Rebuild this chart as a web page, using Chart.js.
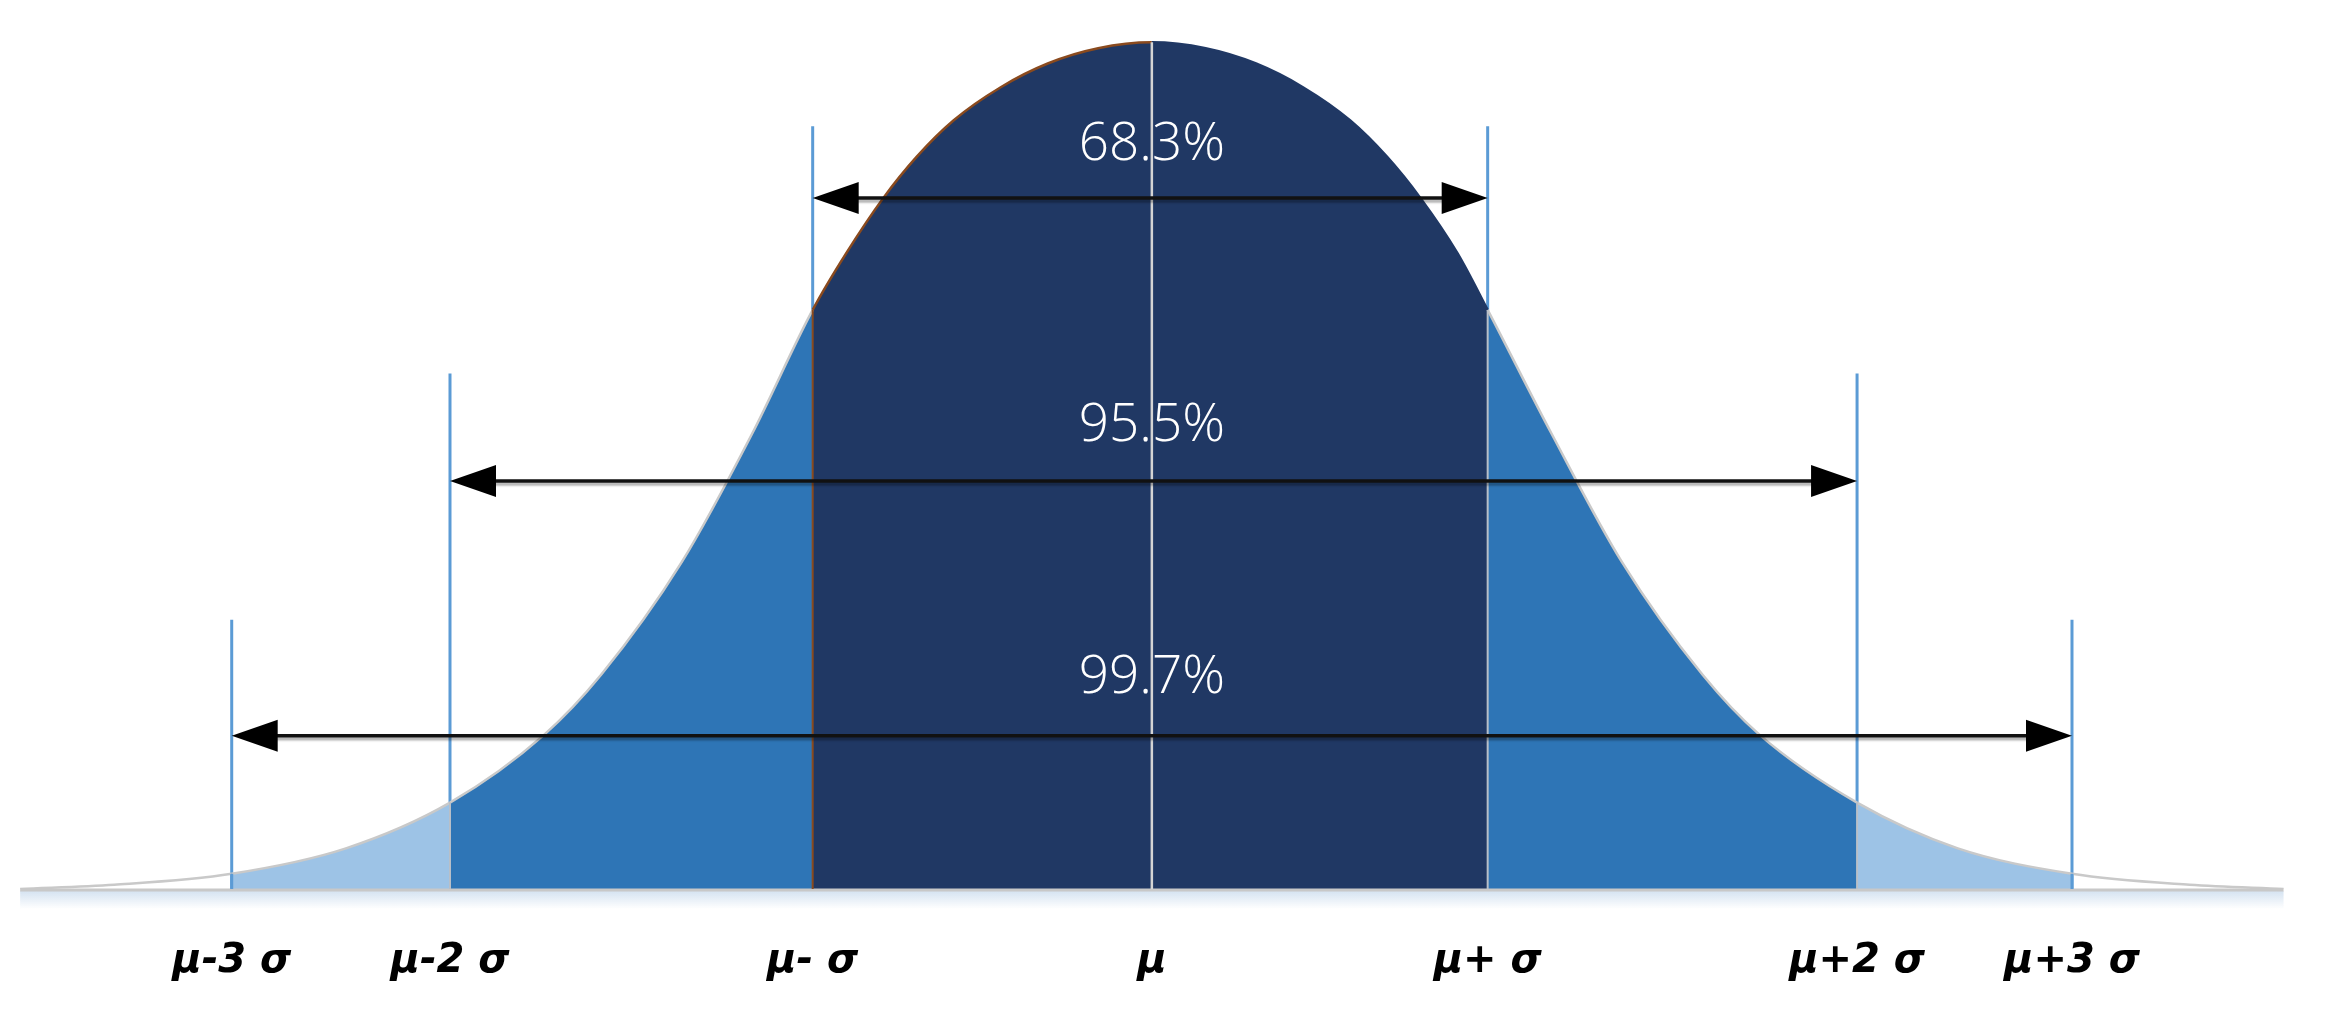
<!DOCTYPE html>
<html>
<head>
<meta charset="utf-8">
<script src="https://cdn.jsdelivr.net/npm/chart.js@4.4.1/dist/chart.umd.min.js"></script>
<style>
  html, body { margin: 0; padding: 0; background: #fff; }
  #wrap { width: 2344px; height: 1013px; position: relative; }
</style>
</head>
<body>
<div id="wrap"><canvas id="bellChart"></canvas></div>
<script>
// x is measured in units of the first sigma step (mu = 0), y in % of the peak height
const curveX = [-3.37, -3.09, -2.74, -2.40, -2.09, -1.81, -1.64, -1.40, -1.19, -1.01,
                -0.91, -0.80, -0.70, -0.59, -0.45, -0.31, -0.16, 0,
                0.16, 0.31, 0.45, 0.59, 0.70, 0.80, 0.91, 1.0,
                1.19, 1.40, 1.64, 1.81, 2.10, 2.40, 2.74, 3.09, 3.37];
const curveY = [0, 0.5, 1.8, 4.8, 10.2, 18.2, 25.3, 38.6, 53.8, 68.4,
                75.1, 81.6, 86.5, 90.8, 94.7, 97.5, 99.3, 100,
                99.3, 97.5, 94.7, 90.8, 86.5, 81.6, 75.1, 68.4,
                53.8, 38.6, 25.3, 18.2, 10.2, 4.8, 1.8, 0.5, 0];

const sigmaPos = [-2.74, -2.09, -1.01, 0, 1.0, 2.10, 2.74];
const sigmaLabels = ["μ-3 σ", "μ-2 σ", "μ- σ", "μ", "μ+ σ", "μ+2 σ", "μ+3 σ"];
// where the thin guide lines above each sigma position stop
const guideTops = [31.8, 60.9, 90.1, 100, 90.1, 60.9, 31.8];

const bandNames = ["68.3%", "95.5%", "99.7%"];
const bandFrom = [-1.01, -2.09, -2.74];
const bandTo = [1.0, 2.10, 2.74];
const arrowLevel = [81.6, 48.2, 18.1];
const textLevel = [86.1, 52.9, 23.1];

const bandFills = ["#203864", "#2e75b6", "#9dc3e6"];

function bandColor(x) {
  for (let i = 0; i < bandFills.length; i++) {
    if (x > bandFrom[i] && x < bandTo[i]) return bandFills[i];
  }
  return "rgba(255,255,255,0)";
}

function curveAt(x) {
  const i = curveX.indexOf(x);
  return i >= 0 ? curveY[i] : 0;
}

const decor = {
  id: "sigmaDecor",
  beforeDatasetsDraw(chart) {
    const ctx = chart.ctx;
    const xs = chart.scales.x, ys = chart.scales.y;
    const y0 = ys.getPixelForValue(0);
    const left = xs.getPixelForValue(curveX[0]);
    const right = xs.getPixelForValue(curveX[curveX.length - 1]);

    ctx.save();
    // soft shadow under the base line
    const g = ctx.createLinearGradient(0, y0 + 2, 0, y0 + 20);
    g.addColorStop(0, "rgba(185,208,232,0.6)");
    g.addColorStop(1, "rgba(185,208,232,0)");
    ctx.fillStyle = g;
    ctx.fillRect(left, y0 + 2, right - left, 18);

    // blue guide lines, the fill covers their lower part
    ctx.strokeStyle = "#5b9bd5";
    ctx.lineWidth = 3;
    sigmaPos.forEach((p, i) => {
      if (p === 0) return;
      const x = xs.getPixelForValue(p);
      ctx.beginPath();
      ctx.moveTo(x, y0);
      ctx.lineTo(x, ys.getPixelForValue(guideTops[i]));
      ctx.stroke();
    });
    ctx.restore();
  },
  afterDatasetsDraw(chart) {
    const ctx = chart.ctx;
    const xs = chart.scales.x, ys = chart.scales.y;
    const y0 = ys.getPixelForValue(0);
    const left = xs.getPixelForValue(curveX[0]);
    const right = xs.getPixelForValue(curveX[curveX.length - 1]);

    ctx.save();
    // base line
    ctx.strokeStyle = "#c8c8c8";
    ctx.lineWidth = 3;
    ctx.beginPath();
    ctx.moveTo(left, y0 + 1);
    ctx.lineTo(right, y0 + 1);
    ctx.stroke();

    // separators between the shaded bands
    sigmaPos.forEach((p, i) => {
      if (p === 0) return;
      const x = xs.getPixelForValue(p);
      if (Math.abs(p) > 2.5) ctx.strokeStyle = "#5b9bd5";
      else if (p === -1.01) ctx.strokeStyle = "#8a4a1e";
      else ctx.strokeStyle = "#b8bfc8";
      ctx.lineWidth = Math.abs(p) > 2.5 ? 3 : 2;
      ctx.beginPath();
      ctx.moveTo(x, y0);
      ctx.lineTo(x, ys.getPixelForValue(curveAt(p)));
      ctx.stroke();
    });

    // percentage labels
    const mx = xs.getPixelForValue(0);
    ctx.fillStyle = "#ffffff";
    ctx.font = '300 53px "Open Sans", "DejaVu Sans", sans-serif';
    ctx.textAlign = "center";
    ctx.textBaseline = "alphabetic";
    bandNames.forEach((t, i) => {
      ctx.fillText(t, mx, ys.getPixelForValue(textLevel[i]));
    });

    // centre line
    ctx.strokeStyle = "#d4d4d4";
    ctx.lineWidth = 2.5;
    ctx.beginPath();
    ctx.moveTo(mx, y0);
    ctx.lineTo(mx, ys.getPixelForValue(curveAt(0)));
    ctx.stroke();

    // double headed arrows
    const headLen = 46, headHalf = 16;
    bandNames.forEach((t, i) => {
      const y = ys.getPixelForValue(arrowLevel[i]);
      const x0 = xs.getPixelForValue(bandFrom[i]);
      const x1 = xs.getPixelForValue(bandTo[i]);
      ctx.save();
      ctx.shadowColor = "rgba(0,0,0,0.3)";
      ctx.shadowOffsetY = 3;
      ctx.shadowBlur = 2;
      ctx.strokeStyle = "#111";
      ctx.lineWidth = 3.5;
      ctx.beginPath();
      ctx.moveTo(x0 + headLen - 2, y);
      ctx.lineTo(x1 - headLen + 2, y);
      ctx.stroke();
      ctx.restore();

      ctx.fillStyle = "#000";
      ctx.beginPath();
      ctx.moveTo(x0, y);
      ctx.lineTo(x0 + headLen, y - headHalf);
      ctx.lineTo(x0 + headLen, y + headHalf);
      ctx.closePath();
      ctx.fill();
      ctx.beginPath();
      ctx.moveTo(x1, y);
      ctx.lineTo(x1 - headLen, y - headHalf);
      ctx.lineTo(x1 - headLen, y + headHalf);
      ctx.closePath();
      ctx.fill();
    });
    ctx.restore();
  }
};

const midX = c => (c.p0.parsed.x + c.p1.parsed.x) / 2;

new Chart(document.getElementById("bellChart"), {
  type: "line",
  data: {
    datasets: [{
      data: curveX.map((x, i) => ({ x: x, y: curveY[i] })),
      borderColor: "#c9c9c9",
      borderWidth: 2.5,
      backgroundColor: "rgba(255,255,255,0)",
      fill: "origin",
      pointRadius: 0,
      cubicInterpolationMode: "monotone",
      segment: {
        backgroundColor: c => bandColor(midX(c)),
        borderColor: c => {
          const m = midX(c);
          if (m > bandFrom[0] && m < 0) return "#8a4a1e";
          if (m > 0 && m < bandTo[0]) return "#203864";
          return "#c9c9c9";
        }
      }
    }]
  },
  options: {
    responsive: true,
    maintainAspectRatio: false,
    animation: false,
    devicePixelRatio: 1,
    layout: { padding: 0, autoPadding: false },
    plugins: {
      legend: { display: false },
      tooltip: { enabled: false }
    },
    scales: {
      x: {
        type: "linear",
        min: -3.43,
        max: 3.55,
        grid: { display: false, drawTicks: false },
        border: { display: false },
        afterBuildTicks: s => { s.ticks = sigmaPos.map(v => ({ value: v })); },
        afterFit: s => { s.height = 124; },
        ticks: {
          autoSkip: false,
          maxRotation: 0,
          padding: 53,
          color: "#000",
          font: { family: '"DejaVu Sans", sans-serif', size: 40, weight: "bold", style: "italic", lineHeight: 1 },
          callback: (v, i) => sigmaLabels[i]
        }
      },
      y: {
        display: false,
        min: 0,
        max: 105
      }
    }
  },
  plugins: [decor]
});
</script>
</body>
</html>
